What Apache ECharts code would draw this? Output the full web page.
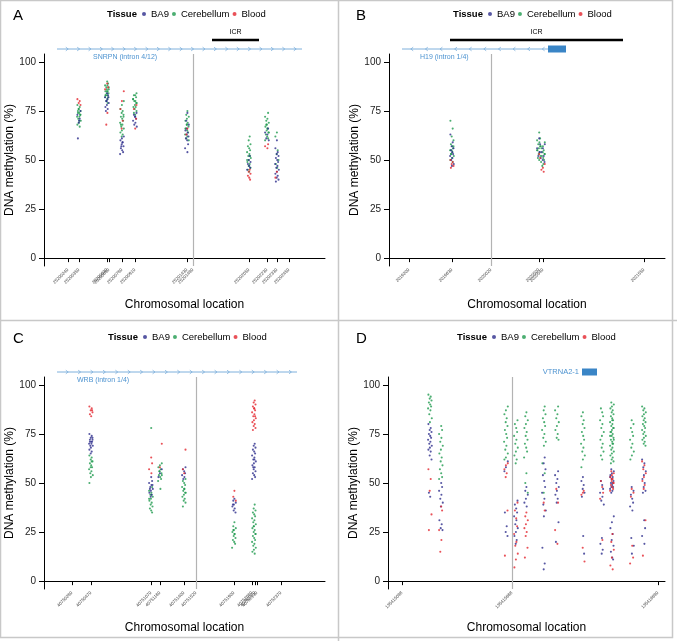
<!DOCTYPE html>
<html>
<head>
<meta charset="utf-8">
<script src="https://cdn.jsdelivr.net/npm/echarts@6/dist/echarts.min.js"></script>
<style>
    html, body { margin: 0; padding: 0; background: #fff; }
    #main { width: 677px; height: 641px; }
</style>
</head>
<body>
<div id="main"></div>
<script>
    // tissues and colours
    var tissues = ['BA9', 'Cerebellum', 'Blood'];
    var yTicks = [0, 25, 50, 75, 100];

    // ---- panel A : SNRPN ----
    var aTicks = [25200240, 25200350, 25200630, 25200650, 25200780, 25200910, 25201430, 25201490, 25202050, 25202230, 25202330, 25202450];
    var aSites = [25200350, 25200630, 25200780, 25200910, 25201430, 25202050, 25202230, 25202330];
    var aBA9 = [
        [73, 71, 69, 75, 61, 70],
        [84, 83, 82, 81, 80, 79, 78, 77, 76, 80, 82, 75],
        [62, 61, 60, 59, 58, 57, 56, 55, 54, 53, 59, 57],
        [74, 73, 72, 71, 70, 69, 68, 67, 72],
        [74, 70, 68, 66, 65, 64, 63, 62, 61, 60, 58, 56, 54],
        [52, 50, 49, 48, 47, 46, 45],
        [66, 64, 63, 61, 60],
        [60, 56, 54, 53, 52, 51, 50, 49, 48, 47, 46, 45, 44, 43, 42, 41, 40, 39]
    ];
    var aCereb = [
        [78, 77, 76, 75, 74, 74, 73, 72, 72, 71, 70, 69, 68, 67, 76, 73, 75, 70],
        [90, 89, 88, 88, 87, 86, 86, 85, 85, 84, 84, 83, 83, 82, 82, 81, 80, 87, 85, 83, 79],
        [80, 78, 76, 75, 74, 73, 72, 71, 70, 69, 68, 67, 66, 65, 64, 63, 62, 72, 68],
        [84, 83, 83, 82, 81, 80, 80, 79, 78, 77, 77, 76, 75, 74, 73, 79, 81],
        [75, 73, 72, 71, 70, 69, 68, 67, 66, 65, 64, 63, 62, 61, 60, 68, 66],
        [62, 60, 58, 57, 56, 55, 54, 53, 52, 51, 50, 49, 48, 47, 46, 45, 44, 52, 50],
        [74, 72, 71, 70, 69, 68, 67, 66, 65, 64, 63, 62, 61, 60, 66, 68, 64],
        [64, 62, 55, 53, 50, 48, 46]
    ];
    var aBlood = [
        [81, 80, 79, 78],
        [89, 87, 86, 74, 68],
        [85, 80, 76, 70, 66],
        [78, 76, 66, 71],
        [66, 63],
        [45, 44, 43, 42, 41, 40],
        [58, 57, 56],
        [44, 41]
    ];
    var aRef = 25201490;
    var aGene = [25200130, 25202580, 1];
    var aGeneName = 'SNRPN (intron 4/12)';
    var aICR = [25201680, 25202150];

    // ---- panel B : H19 ----
    var bTicks = [2019200, 2019630, 2020020, 2020500, 2020540, 2021550];
    var bSites = [2019630, 2020500, 2020540];
    var bBA9 = [
        [63, 59, 57, 56, 55, 54, 53, 52, 51, 50, 48, 47],
        [61, 58, 56, 54, 52, 51],
        [58, 56, 54, 52, 50, 49]
    ];
    var bCereb = [
        [70, 66, 62, 60, 58, 57, 56, 55, 54, 53, 52, 51, 50, 49, 55, 57, 53],
        [64, 61, 60, 59, 58, 57, 56, 55, 54, 53, 52, 51, 50, 57, 55],
        [59, 57, 56, 55, 54, 53, 52, 51, 50, 49, 48, 47, 53]
    ];
    var bBlood = [
        [50, 49, 48, 47, 46],
        [53, 51],
        [48, 46, 45, 44]
    ];
    var bRef = 2020020;
    var bGene = [2019130, 2020590, -1];
    var bGeneName = 'H19 (intron 1/4)';
    var bExon = [2020590, 2020770];
    var bICR = [2019610, 2021340];

    // ---- panel C : WRB ----
    var cTicks = [40750280, 40750470, 40751070, 40751160, 40751400, 40751520, 40751900, 40752080, 40752110, 40752130, 40752370];
    var cSites = [40750470, 40751070, 40751160, 40751400, 40751900, 40752100];
    var cBA9 = [
        [75, 74, 73, 72, 72, 71, 71, 70, 70, 69, 69, 68, 67, 66, 65, 73, 71],
        [53, 51, 50, 49, 48, 47, 46, 45, 44, 43, 49, 47],
        [57, 55, 53],
        [58, 57, 56, 55, 54, 53, 52],
        [42, 41, 40, 39, 38, 37, 36, 35, 39],
        [70, 69, 68, 67, 66, 65, 64, 63, 62, 61, 60, 59, 58, 57, 56, 55, 54, 53, 52, 62, 58]
    ];
    var cCereb = [
        [64, 63, 62, 61, 60, 59, 58, 57, 56, 55, 54, 53, 50, 61, 58],
        [78, 48, 46, 45, 44, 43, 42, 41, 40, 39, 38, 37, 36, 35, 42, 44],
        [60, 59, 58, 57, 56, 55, 54, 53, 52, 51, 47, 56, 54],
        [52, 51, 50, 49, 48, 47, 46, 45, 44, 43, 42, 41, 40, 38, 47, 45],
        [30, 28, 27, 26, 25, 24, 23, 22, 21, 20, 19, 17, 24, 26],
        [39, 37, 36, 35, 34, 33, 32, 31, 30, 29, 28, 27, 26, 25, 24, 23, 22, 21, 20, 19, 18, 17, 16, 15, 14, 28, 24]
    ];
    var cBlood = [
        [89, 88, 87, 86, 85, 84, 87],
        [63, 60, 57, 55],
        [70, 58],
        [67, 57, 55],
        [46, 43, 41],
        [92, 91, 90, 89, 88, 87, 86, 85, 84, 83, 82, 81, 80, 79, 78, 77, 88, 84]
    ];
    var cRef = 40751520;
    var cGene = [40750130, 40752530, 1];
    var cGeneName = 'WRB (intron 1/4)';

    // ---- panel D : VTRNA2-1 ----
    var dTicks = [135415098, 135415868, 135416890];
    var dSites = [135415294, 135415371, 135415826, 135415896, 135415966, 135416092, 135416183, 135416365, 135416498, 135416568, 135416708, 135416792];
    var dBA9 = [
        [80, 78, 77, 76, 75, 74, 73, 72, 71, 70, 69, 68, 67, 66, 64, 62, 45, 43],
        [50, 48, 46, 44, 42, 40, 38, 31, 29, 27, 26],
        [61, 58, 56, 28, 25, 23, 35],
        [41, 39, 37, 35, 33, 31, 29, 27, 25, 23, 21, 19],
        [48, 46, 44, 42, 40, 38],
        [63, 60, 57, 54, 51, 48, 45, 42, 39, 36, 33, 17, 9, 6],
        [56, 54, 52, 50, 48, 46, 44, 42, 40, 30, 20],
        [53, 51, 49, 47, 45, 43, 23, 14],
        [51, 49, 47, 45, 43, 41, 39, 22, 19, 16, 14],
        [57, 56, 55, 54, 53, 52, 51, 50, 49, 48, 47, 46, 45, 33, 30, 27, 24, 21, 18, 15, 12, 11, 53, 50, 48],
        [48, 46, 44, 42, 40, 38, 36, 22, 18, 14],
        [62, 60, 58, 56, 54, 52, 50, 48, 46, 45, 31, 27, 23, 19]
    ];
    var dCereb = [
        [95, 94, 93, 92, 91, 90, 89, 88, 87, 85, 83, 81],
        [79, 77, 75, 73, 71, 69, 67, 65, 63, 61, 59, 57, 55, 53, 52],
        [89, 87, 85, 83, 81, 79, 77, 75, 73, 71, 69, 67, 65, 63, 62],
        [82, 80, 78, 76, 74, 72, 70, 68, 66, 64, 62, 60],
        [86, 84, 82, 80, 78, 76, 74, 72, 70, 68, 66, 63, 55, 50, 45],
        [89, 87, 85, 83, 81, 79, 77, 75, 73, 71, 69, 60, 55, 45],
        [89, 87, 85, 83, 81, 79, 77, 75, 73, 72],
        [86, 84, 82, 80, 78, 76, 74, 72, 70, 68, 66, 64, 62, 58],
        [88, 86, 84, 82, 80, 78, 76, 74, 72, 70, 68, 66, 64, 62],
        [91, 90, 89, 88, 87, 86, 85, 84, 83, 82, 81, 80, 79, 78, 77, 76, 75, 74, 73, 72, 71, 70, 69, 68, 67, 66, 65, 64, 63, 62, 61, 60, 82, 78, 74, 70, 76, 72],
        [82, 80, 78, 76, 74, 72, 70, 68, 66, 64, 62],
        [89, 88, 87, 86, 85, 84, 83, 82, 81, 80, 79, 78, 77, 76, 75, 74, 73, 72, 71, 70, 69]
    ];
    var dBlood = [
        [57, 52, 46, 34, 26],
        [38, 36, 26, 21, 15],
        [60, 59, 57, 55, 53, 36, 13],
        [40, 36, 32, 28, 24, 20, 18, 14, 11, 7],
        [35, 33, 31, 29, 27, 25, 23, 17, 12],
        [36, 40],
        [40, 26, 19, 47],
        [45, 44, 46, 17, 10],
        [51, 48, 45, 42, 21],
        [56, 55, 54, 53, 52, 51, 50, 49, 48, 47, 46, 24, 20, 16, 12, 8, 6, 52, 50],
        [47, 45, 43, 18, 12, 9],
        [61, 59, 57, 55, 53, 51, 49, 47, 31, 13]
    ];
    var dRef = 135415868;
    var dExon = [135416358, 135416463];
    var dGeneName = 'VTRNA2-1';

    // ---- styles / layout ----
    var COLORS = { 'BA9': '#2d2d8c', 'Cerebellum': '#1e9a4e', 'Blood': '#e3262e' };
    var GENE_LINE = '#7eb0dc';
    var GENE_TEXT = '#4d93d0';
    var EXON = '#3a85c6';
    var FONT = '"Liberation Sans", Arial, sans-serif';
    var JITTER = [-1.6, 0.7, -0.3, 1.5, -1.1, 0.2, 1.1, -1.9, 0.4, -0.7, 1.8, -0.1];

    var panels = [
        { letter: 'A', grid: { left: 44, top: 54, width: 281, height: 212 }, min: 25200000, max: 25202810,
          ticks: aTicks, sites: aSites, vals: [aBA9, aCereb, aBlood], ref: aRef,
          gene: aGene, geneName: aGeneName, labelDx: 36, chevron: 11.4, icr: aICR, legendLeft: 142, tissueLeft: 107 },
        { letter: 'B', grid: { left: 389, top: 54, width: 276, height: 212 }, min: 2019000, max: 2021760,
          ticks: bTicks, sites: bSites, vals: [bBA9, bCereb, bBlood], ref: bRef,
          gene: bGene, geneName: bGeneName, labelDx: 18, chevron: 14.6, exon: bExon, icr: bICR, legendLeft: 488, tissueLeft: 453 },
        { letter: 'C', grid: { left: 44, top: 377, width: 281, height: 212 }, min: 40750000, max: 40752810,
          ticks: cTicks, sites: cSites, vals: [cBA9, cCereb, cBlood], ref: cRef,
          gene: cGene, geneName: cGeneName, labelDx: 20, chevron: 12.4, legendLeft: 143, tissueLeft: 108 },
        { letter: 'D', grid: { left: 388, top: 377, width: 277, height: 212 }, min: 135415000, max: 135416939,
          ticks: dTicks, sites: dSites, vals: [dBA9, dCereb, dBlood], ref: dRef,
          exon: dExon, exonName: dGeneName, legendLeft: 492, tissueLeft: 457 }
    ];

    function buildPoints(sites, bySite) {
        var out = [];
        sites.forEach(function (s, i) {
            bySite[i].forEach(function (v, j) {
                out.push({ value: [s, v], symbolOffset: [JITTER[(j + i * 5) % JITTER.length], 0] });
            });
        });
        return out;
    }

    // gene line with strand chevrons
    function geneRenderer(p) {
        return function (params, api) {
            var top = params.coordSys.y;
            var x0 = api.coord([api.value(0), 0])[0];
            var x1 = api.coord([api.value(1), 0])[0];
            var dir = api.value(2);
            var y = top - 5;
            var kids = [{ type: 'line', shape: { x1: x0, y1: y, x2: x1, y2: y }, style: { stroke: GENE_LINE, lineWidth: 1 } }];
            for (var x = x0 + 10; x < x1 - 1; x += p.chevron) {
                kids.push({ type: 'polyline', shape: { points: [[x - 1.2 * dir, y - 1.8], [x + 1.2 * dir, y], [x - 1.2 * dir, y + 1.8]] },
                    style: { stroke: GENE_LINE, lineWidth: 0.8, fill: null } });
            }
            kids.push({ type: 'text', style: { x: x0 + p.labelDx, y: y + 8, text: p.geneName, fill: GENE_TEXT,
                font: '7px ' + FONT, verticalAlign: 'middle' } });
            return { type: 'group', children: kids };
        };
    }

    function exonRenderer(p) {
        return function (params, api) {
            var top = params.coordSys.y;
            var x0 = api.coord([api.value(0), 0])[0];
            var x1 = api.coord([api.value(1), 0])[0];
            var y = top - 5;
            var kids = [{ type: 'rect', shape: { x: x0, y: y - 3.5, width: x1 - x0, height: 7 }, style: { fill: EXON } }];
            if (p.exonName) {
                kids.push({ type: 'text', style: { x: x0 - 3, y: y, text: p.exonName, fill: GENE_TEXT,
                    font: '7.5px ' + FONT, align: 'right', verticalAlign: 'middle' } });
            }
            return { type: 'group', children: kids };
        };
    }

    function icrRenderer(params, api) {
        var top = params.coordSys.y;
        var x0 = api.coord([api.value(0), 0])[0];
        var x1 = api.coord([api.value(1), 0])[0];
        var y = top - 14;
        return { type: 'group', children: [
            { type: 'line', shape: { x1: x0, y1: y, x2: x1, y2: y }, style: { stroke: '#000', lineWidth: 2.5 } },
            { type: 'text', style: { x: (x0 + x1) / 2, y: y - 8, text: 'ICR', fill: '#000', font: '7px ' + FONT,
                align: 'center', verticalAlign: 'middle' } }
        ] };
    }

    var grids = [], xAxes = [], yAxes = [], series = [], legends = [], graphics = [];

    panels.forEach(function (p, k) {
        grids.push(p.grid);
        xAxes.push({
            type: 'value', gridIndex: k, min: p.min, max: p.max,
            name: 'Chromosomal location', nameLocation: 'middle', nameGap: 33,
            nameTextStyle: { fontSize: 12, color: '#000', fontFamily: FONT },
            axisLine: { show: true, lineStyle: { color: '#000', width: 1 } },
            axisTick: { show: true, length: 4, customValues: p.ticks, lineStyle: { color: '#000' } },
            axisLabel: { customValues: p.ticks, rotate: 45, fontSize: 4.5, color: '#444', margin: 3, fontFamily: FONT,
                formatter: function (v) { return String(v); } },
            splitLine: { show: false }
        });
        yAxes.push({
            type: 'value', gridIndex: k, min: -4, max: 104,
            name: 'DNA methylation (%)', nameLocation: 'middle', nameGap: 27,
            nameTextStyle: { fontSize: 12, color: '#000', fontFamily: FONT },
            axisLine: { show: true, lineStyle: { color: '#000', width: 1 } },
            axisTick: { show: true, length: 5, customValues: yTicks, lineStyle: { color: '#000' } },
            axisLabel: { customValues: yTicks, fontSize: 10, color: '#222', margin: 8, fontFamily: FONT },
            splitLine: { show: false }
        });

        [1, 0, 2].forEach(function (t) {
            var s = {
                name: tissues[t], type: 'scatter', xAxisIndex: k, yAxisIndex: k,
                symbol: 'circle', symbolSize: 2.1, itemStyle: { color: COLORS[tissues[t]] },
                data: buildPoints(p.sites, p.vals[t]), silent: true
            };
            if (t === 1) {
                s.markLine = { silent: true, symbol: 'none', label: { show: false },
                    lineStyle: { color: '#b3b3b3', width: 1.2, type: 'solid' }, data: [{ xAxis: p.ref }] };
            }
            series.push(s);
        });

        if (p.gene) {
            series.push({ type: 'custom', xAxisIndex: k, yAxisIndex: k, clip: false, silent: true,
                renderItem: geneRenderer(p), data: [p.gene] });
        }
        if (p.exon) {
            series.push({ type: 'custom', xAxisIndex: k, yAxisIndex: k, clip: false, silent: true,
                renderItem: exonRenderer(p), data: [p.exon] });
        }
        if (p.icr) {
            series.push({ type: 'custom', xAxisIndex: k, yAxisIndex: k, clip: false, silent: true,
                renderItem: icrRenderer, data: [p.icr] });
        }

        var rowTop = k < 2 ? 0 : 323;
        legends.push({
            data: tissues, left: p.legendLeft, top: rowTop + 9, padding: 0,
            icon: 'circle', itemWidth: 4, itemHeight: 4, itemGap: 3,
            textStyle: { fontSize: 9.5, color: '#000', fontFamily: FONT }, selectedMode: false
        });
        graphics.push({ type: 'text', left: p.tissueLeft, top: rowTop + 9,
            style: { text: 'Tissue', font: 'bold 9.5px ' + FONT, fill: '#000' } });
        graphics.push({ type: 'text', left: (k % 2 === 0 ? 13 : 356), top: rowTop + 8,
            style: { text: p.letter, font: '15px ' + FONT, fill: '#000' } });
    });

    // panel frame
    graphics.push({ type: 'line', shape: { x1: 338.5, y1: 0, x2: 338.5, y2: 641 }, style: { stroke: '#c8c8c8', lineWidth: 1.5 } });
    graphics.push({ type: 'line', shape: { x1: 0, y1: 320.5, x2: 677, y2: 320.5 }, style: { stroke: '#c8c8c8', lineWidth: 1.5 } });
    graphics.push({ type: 'rect', shape: { x: 0.5, y: 0.5, width: 672, height: 637 }, style: { fill: null, stroke: '#c8c8c8', lineWidth: 1.5 } });

    var myChart = echarts.init(document.getElementById('main'), null, { renderer: 'canvas' });
    myChart.setOption({
        backgroundColor: '#fff',
        animation: false,
        grid: grids,
        xAxis: xAxes,
        yAxis: yAxes,
        legend: legends,
        graphic: graphics,
        series: series
    });
</script>
</body>
</html>
